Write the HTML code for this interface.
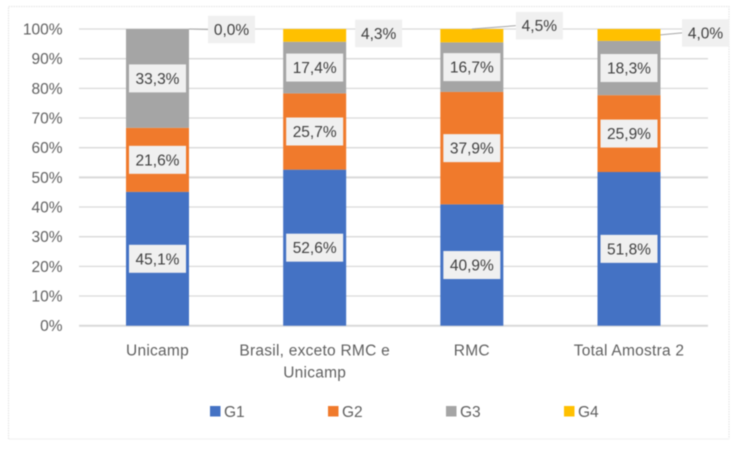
<!DOCTYPE html>
<html lang="pt">
<head>
<meta charset="utf-8">
<title>Chart</title>
<style>
html,body{margin:0;padding:0;background:#fff;width:742px;height:453px;overflow:hidden}
svg{display:block;filter:blur(.45px)}
text{font-family:"Liberation Sans",sans-serif}
</style>
</head>
<body>
<svg id="chart" xmlns="http://www.w3.org/2000/svg" width="742" height="453" viewBox="0 0 742 453"></svg>
<script>
const categories = ['Unicamp', 'Brasil, exceto RMC e Unicamp', 'RMC', 'Total Amostra 2'];
const seriesNames = ['G1', 'G2', 'G3', 'G4'];
const g1Values = [45.1, 52.6, 40.9, 51.8];
const g2Values = [21.6, 25.7, 37.9, 25.9];
const g3Values = [33.3, 17.4, 16.7, 18.3];
const g4Values = [0.0, 4.3, 4.5, 4.0];
const tickValues = [0, 10, 20, 30, 40, 50, 60, 70, 80, 90, 100];

const seriesValues = [g1Values, g2Values, g3Values, g4Values];
const colors = ['#4472c4', '#f07a2c', '#a5a5a5', '#ffc000'];
const g4LabelShift = [[74, 0.5], [64, -2], [67.5, -10], [76.5, -2]];
const g4LeaderStart = ['right', null, 'center', 'right'];
const legendX = [210, 328, 446, 564];

const NS = 'http://www.w3.org/2000/svg';
const svg = document.getElementById('chart');
const plotLeft = 79, plotRight = 708, plotTop = 29, plotBottom = 325.7;
const barWidth = 63, inner = 57, innerH = 28, outer = 47, outerH = 27.5;

function y(v) { return plotBottom - (v / 100) * (plotBottom - plotTop); }
function x(i) { return 157.5 + i * ((629 - 157.5) / (categories.length - 1)); }
function fmt(v) { return v.toFixed(1).replace('.', ',') + '%'; }
function make(tag, attrs, parent) {
  const el = document.createElementNS(NS, tag);
  for (const k in attrs) el.setAttribute(k, attrs[k]);
  (parent || svg).appendChild(el);
  return el;
}
function wrap(label, max) {
  const lines = [];
  let cur = '';
  label.split(' ').forEach(function (w) {
    const next = cur ? cur + ' ' + w : w;
    if (next.length > max) { lines.push(cur); cur = w; } else { cur = next; }
  });
  lines.push(cur);
  return lines;
}

const frame = make('path', {d: 'M8.5 439V6.5H729V439', fill: 'none', stroke: '#e6e6e6', 'stroke-width': 1.2, 'stroke-dasharray': '1.5 1'});


const frameBase = make('path', {d: 'M8.5 439H729', fill: 'none', stroke: '#f0f0f0', 'stroke-width': 1});



tickValues.forEach(function (t) {
  const thick = (t === 50 || t === 0);
  const grid = make('line', {x1: plotLeft, x2: plotRight, y1: y(t), y2: y(t), stroke: '#d9d9d9', 'stroke-width': thick ? 2 : 1.3});
  
  
  const tick = make('text', {x: 62.5, y: y(t) + 5.5, 'text-anchor': 'end', 'font-size': 15.5, fill: '#606060'});
  
  
  tick.textContent = t + '%';
});

categories.forEach(function (cat, i) {
  let base = 0;
  seriesValues.forEach(function (vals, s) {
    const v = vals[i];
    const seg = make('rect', {x: x(i) - barWidth / 2, y: y(base + v), width: barWidth, height: Math.max(0, y(base) - y(base + v)), fill: colors[s]});
    
    
    base += v;
  });

  const lines = wrap(cat, 20);
  lines.forEach(function (line, n) {
    const lab = make('text', {x: x(i), y: 355.5 + n * 22, 'text-anchor': 'middle', 'font-size': 15.5, 'letter-spacing': '0.25', fill: '#606060'});
    
    
    lab.textContent = line;
  });
});

categories.forEach(function (cat, i) {
  let base = 0;
  seriesValues.forEach(function (vals, s) {
    const v = vals[i];
    const mid = y(base + v / 2);
    base += v;
    let cx = x(i), cy = mid, w = inner, h = innerH;
    if (s === 3) {
      cx = x(i) + g4LabelShift[i][0];
      cy = mid + g4LabelShift[i][1];
      w = outer;
      h = outerH;
      const start = g4LeaderStart[i];
      if (start) {
        const sx = start === 'right' ? x(i) + barWidth / 2 : x(i);
        const sy = start === 'right' ? mid : y(100);
        const leader = make('line', {x1: sx, y1: sy, x2: cx - w / 2, y2: cy, stroke: '#a6a6a6', 'stroke-width': 1});
        
        
      }
    }
    const box = make('rect', {x: cx - w / 2, y: cy - h / 2, width: w, height: h, fill: '#f0f0f0'});
    
    
    const txt = make('text', {x: cx, y: cy + 5.5, 'text-anchor': 'middle', 'font-size': 15.5, fill: '#404040'});
    
    
    txt.textContent = fmt(v);
  });
});

seriesNames.forEach(function (name, s) {
  const sw = make('rect', {x: legendX[s], y: 406, width: 10.5, height: 10.5, fill: colors[s]});
  
  
  const lt = make('text', {x: legendX[s] + 14, y: 417, 'font-size': 15.5, fill: '#606060'});
  
  
  lt.textContent = name;
});
</script>
</body>
</html>
